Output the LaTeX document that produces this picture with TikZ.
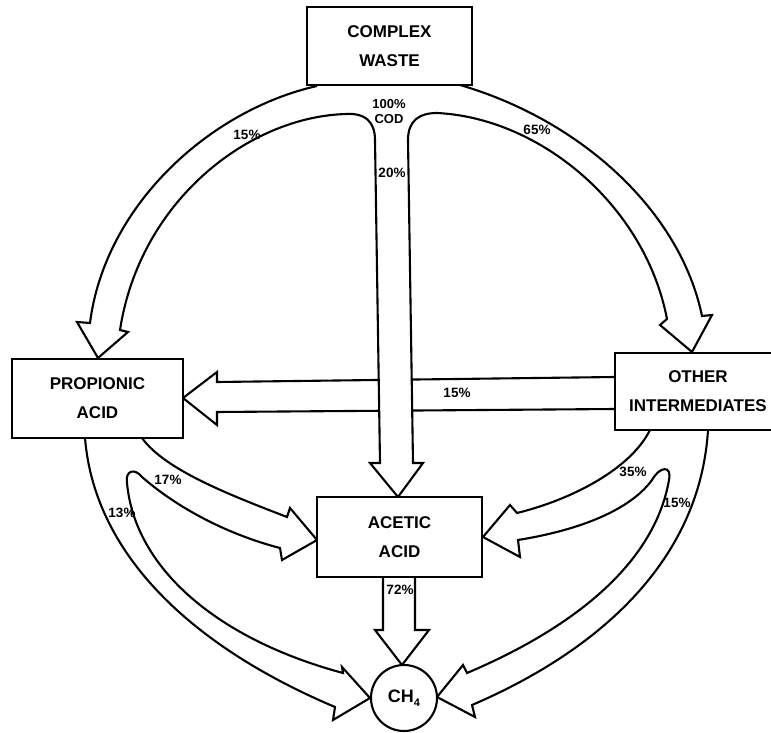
\documentclass[tikz,border=0pt]{standalone}
\usepackage{fontspec}
\setmainfont{Liberation Sans}
\begin{document}
\begin{tikzpicture}[x=1pt,y=-1pt,
  band/.style={draw=black, fill=white, line width=2.1pt, line join=miter, miter limit=20},
  boxnode/.style={draw=black, fill=white, line width=2.1pt, inner sep=0pt, align=center,
    font=\bfseries\fontsize{17}{29}\selectfont},
  pct/.style={inner sep=0pt, font=\bfseries\fontsize{13.5}{15}\selectfont, align=center}]
\useasboundingbox (0,0) rectangle (771,733);
\clip (0,0) rectangle (771,733);
\fill[white] (0,0) rectangle (771,733);

% horizontal arrow: other intermediates -> propionic acid (15%)
\path[band] (615,377) -- (217,382) -- (217,372) -- (183,398) -- (217,425) -- (217,412) -- (615,409);

% top split from complex waste: 15% left, 20% down, 65% right
\path[band] (317,86) .. controls (210,110) and (105,205) .. (90,323)
  -- (77,322) -- (98,358) -- (128,332) -- (120,330)
  .. controls (140,200) and (250,116) .. (347,114)
  .. controls (363,113) and (375,120) .. (375,140)
  -- (380,463) -- (370,463) -- (398,497) -- (423,463) -- (413,463) -- (408,140)
  .. controls (408,120) and (420,113) .. (437,113)
  .. controls (540,118) and (645,205) .. (667,319)
  -- (660,325) -- (692,352) -- (712,315) -- (702,316)
  .. controls (680,210) and (580,120) .. (460,85);

% split from propionic acid: 13% to CH4, 17% to acetic acid
\path[band] (85,438) .. controls (95,560) and (200,650) .. (335,707)
  -- (333,720) -- (370,698) -- (342,667) -- (343,673)
  .. controls (220,640) and (135,570) .. (127,483)
  .. controls (125,470) and (135,468) .. (142,477)
  .. controls (180,510) and (230,535) .. (280,548)
  -- (282,560) -- (317,540) -- (290,508) -- (287,517)
  .. controls (230,495) and (165,470) .. (142,438);

% split from other intermediates: 35% to acetic acid, 15% to CH4
\path[band] (650,430) .. controls (630,470) and (570,500) .. (517,513)
  -- (510,505) -- (483,537) -- (520,557) -- (518,540)
  .. controls (580,530) and (630,510) .. (652,480)
  .. controls (660,466) and (672,465) .. (669,480)
  .. controls (655,560) and (580,625) .. (467,673)
  -- (463,665) -- (437,697) -- (475,717) -- (472,705)
  .. controls (600,650) and (700,560) .. (708,430);

% acetic acid -> CH4 (72%)
\path[band] (383,577) -- (383,630) -- (375,630) -- (402,665) -- (429,630) -- (415,630) -- (415,577);

% nodes
\node[boxnode, minimum width=165pt, minimum height=78pt] (cw) at (389.5,46) {COMPLEX\\WASTE};
\node[boxnode, minimum width=171pt, minimum height=79pt] (pa) at (97.5,398.5) {PROPIONIC\\ACID};
\node[boxnode, minimum width=166pt, minimum height=77pt] (oi) at (698,391.5) {OTHER\\INTERMEDIATES};
\node[boxnode, minimum width=165pt, minimum height=80pt] (aa) at (399.5,537) {ACETIC\\ACID};
\node[boxnode, circle, minimum size=66pt, font=\bfseries\fontsize{18}{20}\selectfont] (ch) at (404,698)
  {CH\raisebox{-0.4ex}{\fontsize{11}{12}\selectfont 4}};

% labels
\node[pct, font=\bfseries\fontsize{13}{15}\selectfont] (lcod) at (389,112) {100\%\\COD};
\node[pct] (l15a) at (247,135) {15\%};
\node[pct] (l20) at (392,173) {20\%};
\node[pct] (l65) at (537,130) {65\%};
\node[pct] (l15b) at (457,393) {15\%};
\node[pct] (l17) at (168,480) {17\%};
\node[pct] (l13) at (122,513) {13\%};
\node[pct] (l35) at (633,472) {35\%};
\node[pct] (l15c) at (677,503) {15\%};
\node[pct] (l72) at (400,590) {72\%};
\end{tikzpicture}
\end{document}
